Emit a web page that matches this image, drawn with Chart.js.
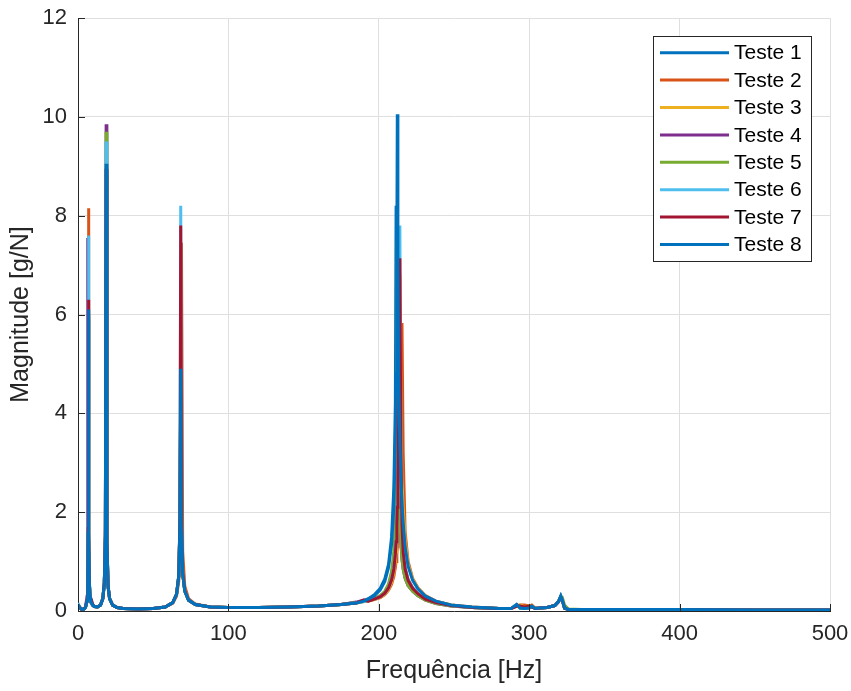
<!DOCTYPE html>
<html>
<head>
<meta charset="utf-8">
<script src="https://cdn.jsdelivr.net/npm/chart.js@4/dist/chart.umd.min.js"></script>
<style>
  html, body { margin: 0; padding: 0; background: #ffffff; }
  #wrap { width: 851px; height: 691px; }
</style>
</head>
<body>
<div id="wrap"><canvas id="c" width="851" height="691"></canvas></div>
<script>
// ---- data ----
const freqHz = [
  0, 1, 2, 3, 4, 5, 6, 6.5, 6.8, 7, 7.2, 7.5, 8, 9, 10, 11, 13, 15, 16.5, 17.5, 18.2, 18.7, 19.2, 20, 21, 23, 26, 30,
  40, 50, 58, 63, 65.5, 67, 67.8, 68.3, 68.8, 69.6, 71, 73.5, 78, 88,
  100, 120, 140, 160, 175, 185, 190, 193, 197, 201, 204, 206.5, 208.5, 210, 211, 211.5, 212, 212.3, 212.7, 213.2, 214, 214.7, 215.4, 216.2, 217.5, 219.5, 222.5, 226, 231, 238, 248, 262, 280,
  288, 291.7, 294, 297, 300, 301.7, 304, 307, 312, 317, 319.5, 321, 322, 323.5, 326, 335, 360, 400, 450, 500
];

const teste1 = [
  0.13, 0.08, 0.04, 0.03, 0.04, 0.07, 0.2, 0.5, 1.6, 5.9, 1.5, 0.6, 0.3, 0.16, 0.11, 0.09, 0.08, 0.12, 0.25, 0.55, 1.5, 8.9, 1.4, 0.5, 0.25, 0.12, 0.07, 0.05,
  0.04, 0.05, 0.08, 0.17, 0.33, 0.7, 1.8, 4.5, 1.7, 0.75, 0.4, 0.22, 0.13, 0.08,
  0.07, 0.07, 0.08, 0.1, 0.13, 0.17, 0.21, 0.25, 0.33, 0.46, 0.65, 0.95, 1.5, 2.5, 4.2, 8.2, 4.4, 3.6, 3.0, 2.5, 2.0, 1.6, 1.35, 1.1, 0.85, 0.62, 0.45, 0.34, 0.24, 0.16, 0.11, 0.07, 0.05,
  0.05, 0.13, 0.06, 0.05, 0.06, 0.1, 0.05, 0.06, 0.07, 0.11, 0.19, 0.3, 0.22, 0.06, 0.03, 0.03, 0.03, 0.03, 0.02, 0.02
];
const teste2 = [
  0.13, 0.08, 0.04, 0.03, 0.04, 0.08, 0.22, 0.55, 1.8, 8.15, 1.6, 0.62, 0.3, 0.17, 0.11, 0.09, 0.08, 0.12, 0.25, 0.55, 1.5, 8.8, 1.4, 0.5, 0.25, 0.12, 0.07, 0.05,
  0.04, 0.05, 0.08, 0.16, 0.3, 0.6, 1.2, 2.2, 7.45, 1.2, 0.5, 0.25, 0.14, 0.08,
  0.07, 0.07, 0.08, 0.1, 0.13, 0.16, 0.19, 0.2, 0.23, 0.27, 0.33, 0.42, 0.54, 0.7, 0.88, 1.0, 1.15, 1.3, 1.55, 1.95, 2.9, 4.2, 5.83, 3.2, 1.6, 1.0, 0.66, 0.47, 0.31, 0.2, 0.12, 0.08, 0.05,
  0.05, 0.1, 0.12, 0.12, 0.1, 0.12, 0.06, 0.06, 0.07, 0.11, 0.19, 0.29, 0.22, 0.06, 0.03, 0.03, 0.03, 0.03, 0.02, 0.02
];
const teste3 = [
  0.13, 0.08, 0.04, 0.03, 0.04, 0.07, 0.2, 0.5, 1.6, 6.0, 1.5, 0.6, 0.3, 0.16, 0.11, 0.09, 0.08, 0.12, 0.25, 0.55, 1.5, 9.0, 1.4, 0.5, 0.25, 0.12, 0.07, 0.05,
  0.04, 0.05, 0.08, 0.17, 0.33, 0.7, 1.8, 4.6, 1.7, 0.75, 0.4, 0.22, 0.13, 0.08,
  0.07, 0.07, 0.08, 0.1, 0.13, 0.16, 0.19, 0.21, 0.23, 0.28, 0.34, 0.44, 0.58, 0.78, 1.0, 1.2, 1.5, 1.75, 2.2, 3.0, 6.8, 3.9, 2.6, 2.1, 1.45, 0.95, 0.64, 0.46, 0.3, 0.19, 0.12, 0.07, 0.05,
  0.05, 0.11, 0.12, 0.09, 0.1, 0.09, 0.05, 0.06, 0.07, 0.11, 0.19, 0.29, 0.22, 0.06, 0.03, 0.03, 0.03, 0.03, 0.02, 0.02
];
const teste4 = [
  0.13, 0.08, 0.04, 0.03, 0.04, 0.08, 0.3, 7.55, 1.2, 0.7, 0.45, 0.3, 0.2, 0.14, 0.11, 0.09, 0.08, 0.12, 0.26, 0.58, 1.65, 9.85, 1.5, 0.5, 0.25, 0.12, 0.07, 0.05,
  0.04, 0.05, 0.08, 0.17, 0.33, 0.7, 1.8, 4.4, 1.7, 0.75, 0.4, 0.22, 0.13, 0.08,
  0.07, 0.07, 0.08, 0.1, 0.13, 0.18, 0.22, 0.21, 0.25, 0.3, 0.38, 0.52, 0.74, 1.05, 1.5, 1.9, 2.8, 3.8, 6.5, 3.1, 1.9, 1.4, 1.05, 0.85, 0.66, 0.51, 0.4, 0.31, 0.22, 0.15, 0.1, 0.07, 0.05,
  0.05, 0.11, 0.09, 0.07, 0.08, 0.09, 0.05, 0.06, 0.07, 0.11, 0.19, 0.29, 0.22, 0.06, 0.03, 0.03, 0.03, 0.03, 0.02, 0.02
];
const teste5 = [
  0.13, 0.08, 0.04, 0.03, 0.04, 0.07, 0.2, 0.5, 1.6, 6.0, 1.5, 0.6, 0.3, 0.16, 0.11, 0.09, 0.08, 0.12, 0.26, 0.57, 1.6, 9.7, 1.5, 0.5, 0.25, 0.12, 0.07, 0.05,
  0.04, 0.05, 0.08, 0.17, 0.33, 0.7, 1.8, 4.8, 1.7, 0.75, 0.4, 0.22, 0.13, 0.08,
  0.07, 0.07, 0.08, 0.1, 0.13, 0.17, 0.2, 0.22, 0.26, 0.31, 0.4, 0.55, 0.8, 1.2, 1.8, 2.6, 4.5, 7.5, 5.0, 3.0, 1.9, 1.4, 1.05, 0.85, 0.66, 0.51, 0.4, 0.31, 0.22, 0.15, 0.1, 0.07, 0.05,
  0.05, 0.12, 0.06, 0.05, 0.06, 0.09, 0.05, 0.06, 0.07, 0.11, 0.2, 0.3, 0.28, 0.12, 0.04, 0.03, 0.03, 0.03, 0.02, 0.02
];
const teste6 = [
  0.16, 0.09, 0.04, 0.03, 0.04, 0.08, 0.22, 0.55, 1.8, 7.6, 1.6, 0.6, 0.3, 0.16, 0.11, 0.09, 0.08, 0.12, 0.25, 0.56, 1.55, 9.5, 1.45, 0.5, 0.25, 0.12, 0.07, 0.05,
  0.04, 0.05, 0.08, 0.17, 0.34, 0.72, 1.9, 8.2, 1.8, 0.78, 0.41, 0.22, 0.13, 0.08,
  0.07, 0.07, 0.08, 0.1, 0.13, 0.16, 0.19, 0.21, 0.24, 0.29, 0.36, 0.47, 0.64, 0.86, 1.15, 1.4, 1.78, 2.15, 2.8, 4.0, 7.8, 3.3, 1.85, 1.25, 0.88, 0.64, 0.48, 0.36, 0.25, 0.17, 0.11, 0.07, 0.05,
  0.05, 0.12, 0.06, 0.05, 0.06, 0.09, 0.05, 0.06, 0.07, 0.11, 0.19, 0.3, 0.22, 0.06, 0.03, 0.03, 0.03, 0.03, 0.02, 0.02
];
const teste7 = [
  0.12, 0.08, 0.04, 0.03, 0.04, 0.08, 0.22, 0.55, 1.7, 6.3, 1.6, 0.62, 0.3, 0.22, 0.12, 0.09, 0.08, 0.12, 0.25, 0.56, 1.5, 8.95, 1.4, 0.5, 0.25, 0.12, 0.07, 0.05,
  0.04, 0.05, 0.08, 0.17, 0.34, 0.72, 1.9, 7.8, 1.8, 0.78, 0.41, 0.22, 0.13, 0.08,
  0.07, 0.07, 0.08, 0.1, 0.13, 0.16, 0.22, 0.2, 0.24, 0.29, 0.36, 0.47, 0.63, 0.85, 1.15, 1.4, 1.75, 2.1, 2.7, 3.8, 7.14, 3.2, 1.75, 1.2, 0.85, 0.62, 0.46, 0.35, 0.24, 0.17, 0.11, 0.07, 0.05,
  0.05, 0.1, 0.1, 0.08, 0.1, 0.08, 0.05, 0.06, 0.07, 0.11, 0.19, 0.29, 0.22, 0.06, 0.03, 0.03, 0.03, 0.03, 0.02, 0.02
];
const teste8 = [
  0.13, 0.08, 0.04, 0.03, 0.04, 0.07, 0.2, 0.5, 1.6, 6.1, 1.5, 0.6, 0.3, 0.16, 0.11, 0.09, 0.08, 0.12, 0.25, 0.55, 1.5, 9.05, 1.4, 0.5, 0.25, 0.12, 0.07, 0.05,
  0.04, 0.05, 0.08, 0.17, 0.33, 0.7, 1.8, 4.9, 1.7, 0.75, 0.4, 0.22, 0.13, 0.08,
  0.07, 0.07, 0.08, 0.1, 0.13, 0.16, 0.2, 0.24, 0.31, 0.43, 0.6, 0.88, 1.35, 2.1, 3.4, 4.8, 7.5, 10.05, 7.0, 4.8, 3.4, 2.7, 2.2, 1.8, 1.3, 0.9, 0.62, 0.45, 0.3, 0.2, 0.12, 0.08, 0.05,
  0.05, 0.13, 0.06, 0.05, 0.06, 0.1, 0.05, 0.06, 0.07, 0.11, 0.19, 0.3, 0.22, 0.06, 0.03, 0.03, 0.03, 0.03, 0.02, 0.02
];

const seriesNames = ['Teste 1', 'Teste 2', 'Teste 3', 'Teste 4', 'Teste 5', 'Teste 6', 'Teste 7', 'Teste 8'];
const seriesValues = [teste1, teste2, teste3, teste4, teste5, teste6, teste7, teste8];
const seriesColors = ['#0072BD', '#D95319', '#EDB120', '#7E2F8E', '#77AC30', '#4DBEEE', '#A2142F', '#0072BD'];

const xTicks = [0, 100, 200, 300, 400, 500];
const yTicks = [0, 2, 4, 6, 8, 10, 12];
const xTitle = 'Frequência [Hz]';
const yTitle = 'Magnitude [g/N]';

// ---- styling ----
const FONT = '"Liberation Sans", Arial, Helvetica, sans-serif';
const AXIS_COLOR = '#262626';
const GRID_COLOR = '#dfdfdf';
const LINE_W = 3;

const datasets = seriesNames.map((name, i) => ({
  label: name,
  data: freqHz.map((f, k) => ({ x: f, y: seriesValues[i][k] })),
  borderColor: seriesColors[i],
  backgroundColor: seriesColors[i],
  borderWidth: LINE_W,
  pointRadius: 0,
  tension: 0,
  fill: false,
  order: seriesNames.length - i   // later series drawn on top, like MATLAB
}));

const inwardTicks = {
  id: 'inwardTicks',
  afterDraw(chart) {
    const ctx = chart.ctx, a = chart.chartArea;
    const xs = chart.scales.x, ys = chart.scales.y;
    const len = 7;
    ctx.save();
    ctx.strokeStyle = AXIS_COLOR;
    ctx.lineWidth = 1;
    ctx.beginPath();
    xTicks.forEach(v => {
      const px = Math.round(xs.getPixelForValue(v)) + 0.5;
      ctx.moveTo(px, a.bottom);
      ctx.lineTo(px, a.bottom - len);
    });
    yTicks.forEach(v => {
      const py = Math.round(ys.getPixelForValue(v)) + 0.5;
      ctx.moveTo(a.left, py);
      ctx.lineTo(a.left + len, py);
    });
    ctx.stroke();
    ctx.restore();
  }
};

const boxLegend = {
  id: 'boxLegend',
  afterDraw(chart) {
    const ctx = chart.ctx;
    const bx = 653.5, by = 36.5, bw = 158, bh = 225;
    ctx.save();
    ctx.fillStyle = '#ffffff';
    ctx.fillRect(bx, by, bw, bh);
    ctx.strokeStyle = AXIS_COLOR;
    ctx.lineWidth = 1;
    ctx.strokeRect(bx, by, bw, bh);
    ctx.font = '21px ' + FONT;
    ctx.textBaseline = 'middle';
    ctx.textAlign = 'left';
    chart.data.datasets.forEach((ds, i) => {
      const y = 52.7 + i * 27.4;
      ctx.strokeStyle = ds.borderColor;
      ctx.lineWidth = LINE_W;
      ctx.beginPath();
      ctx.moveTo(660, y);
      ctx.lineTo(729, y);
      ctx.stroke();
      ctx.fillStyle = '#000000';
      ctx.fillText(ds.label, 734, y + 1);
    });
    ctx.restore();
  }
};

new Chart(document.getElementById('c'), {
  type: 'line',
  data: { datasets },
  options: {
    responsive: false,
    devicePixelRatio: 1,
    animation: false,
    layout: { padding: { left: 0, top: 18, right: 21, bottom: 0 } },
    plugins: { legend: { display: false }, tooltip: { enabled: false } },
    scales: {
      x: {
        type: 'linear',
        min: 0, max: 500,
        afterBuildTicks: s => { s.ticks = xTicks.map(v => ({ value: v })); },
        afterFit: s => { s.height = 80; s.paddingLeft = 0; s.paddingRight = 0; },
        ticks: { color: AXIS_COLOR, font: { family: FONT, size: 22 }, padding: 10, maxRotation: 0 },
        grid: { color: GRID_COLOR, drawTicks: false, lineWidth: 1 },
        border: { display: true, color: AXIS_COLOR, width: 1 },
        title: { display: true, text: xTitle, color: AXIS_COLOR, font: { family: FONT, size: 25 }, padding: { top: 0, bottom: 5 } }
      },
      y: {
        type: 'linear',
        min: 0, max: 12,
        afterBuildTicks: s => { s.ticks = yTicks.map(v => ({ value: v })); },
        afterFit: s => { s.width = 78; s.paddingTop = 0; s.paddingBottom = 0; },
        ticks: { color: AXIS_COLOR, font: { family: FONT, size: 22 }, padding: 11 },
        grid: { color: GRID_COLOR, drawTicks: false, lineWidth: 1 },
        border: { display: true, color: AXIS_COLOR, width: 1 },
        title: { display: true, text: yTitle, color: AXIS_COLOR, font: { family: FONT, size: 25 }, padding: { top: 6, bottom: 0 } }
      }
    }
  },
  plugins: [inwardTicks, boxLegend]
});
</script>
</body>
</html>
